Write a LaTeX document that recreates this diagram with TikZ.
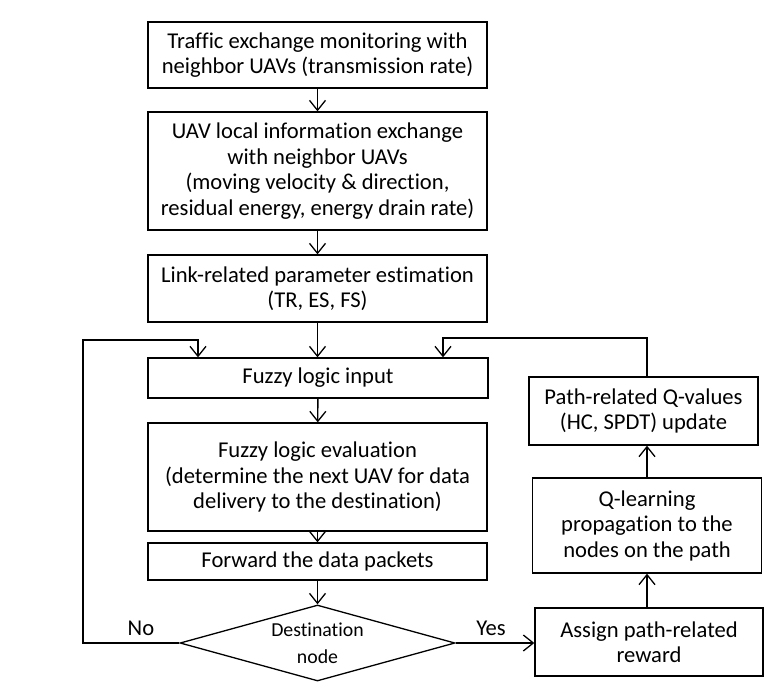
\documentclass[tikz,border=0pt]{standalone}
\usepackage{fontspec}
\setmainfont{Carlito}[Ligatures=CommonOff]
\usetikzlibrary{arrows.meta,shapes.geometric}
\begin{document}
\begin{tikzpicture}[x=1pt,y=-1pt,
  box/.style={draw,line width=1.3pt,align=center,inner sep=0pt,
    font=\fontsize{22.6}{25.5}\selectfont},
  arr/.style={line width=1.3pt,-{Straight Barb[length=10pt,width=16pt,line width=1.3pt]}},
  lbl/.style={font=\fontsize{22.6}{25.5}\selectfont,inner sep=0pt}]
\useasboundingbox (0,0) rectangle (777,686);
\node[box,minimum width=339pt,minimum height=66pt] (b1) at (317.5,55)
  {Traffic exchange monitoring with\\neighbor UAVs (transmission rate)};
\node[box,minimum width=339pt,minimum height=118pt] (b2) at (317.5,171)
  {UAV local information exchange\\with neighbor UAVs\\(moving velocity \& direction,\\residual energy, energy drain rate)};
\node[box,minimum width=339pt,minimum height=67pt] (b3) at (317.5,288.5)
  {Link-related parameter estimation\\(TR, ES, FS)};
\node[box,minimum width=340pt,minimum height=40pt] (fin) at (318,378)
  {Fuzzy logic input};
\node[box,minimum width=339pt,minimum height=108pt] (fev) at (317.5,477)
  {Fuzzy logic evaluation\\(determine the next UAV for data\\delivery to the destination)};
\node[box,minimum width=339pt,minimum height=37pt] (fwd) at (317.5,561.5)
  {Forward the data packets};
\node[draw,line width=1.3pt,diamond,aspect=3.667,minimum width=275pt,minimum height=76pt,
  inner sep=0pt,align=center,font=\fontsize{19.8}{27}\selectfont] (dest) at (317.5,643)
  {Destination\\node};
\node[box,minimum width=229pt,minimum height=68pt] (pq) at (643.5,411)
  {Path-related Q-values\\(HC, SPDT) update};
\node[box,minimum width=229pt,minimum height=95pt] (ql) at (647,525.5)
  {Q-learning\\propagation to the\\nodes on the path};
\node[box,minimum width=228pt,minimum height=68pt] (asg) at (649,642)
  {Assign path-related\\reward};
\coordinate (lx) at (83,0);
\coordinate (la) at (198,340);
\coordinate (ra) at (443,338);
\draw[arr] (b1) -- (b2);
\draw[arr] (b2) -- (b3);
\draw[arr] (b3.south) -- (b3.south |- fin.north);
\draw[arr] (fin) -- (fev);
\draw[arr] (fev) -- (fwd);
\draw[arr] (fwd.south) -- (fwd.south |- dest.north);
\draw[arr] (dest.west) -- (dest.west -| lx) |- (la) -- (la |- fin.north);
\draw[arr] (dest.east) -- (dest.east -| asg.west);
\draw[arr] (asg.north -| ql.south) -- (ql.south);
\draw[arr] (ql.north) -- (ql.north |- pq.south);
\draw[arr] (ql.north |- pq.north) |- (ra) -- (ra |- fin.north);
\node[lbl] (no) at (141,628) {No};
\node[lbl] (yes) at (491,628) {Yes};
\end{tikzpicture}
\end{document}
